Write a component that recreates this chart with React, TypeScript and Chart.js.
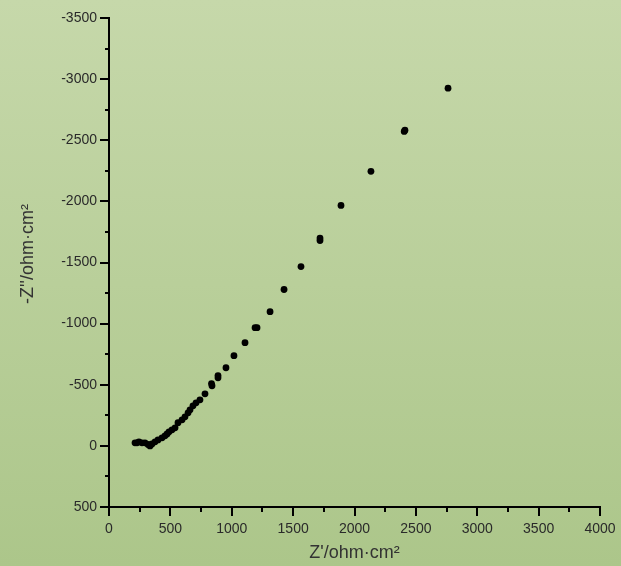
import React, { useEffect, useRef } from "react";
import { Chart, registerables } from "chart.js";

Chart.register(...registerables);

// Nyquist data: Z' (ohm·cm²) and Z'' (ohm·cm², negative = capacitive)
const zReal = [
  2762, 2411, 2405, 2134, 1890, 1719, 1719, 1564, 1426, 1312, 1206, 1190,
  1108, 1018, 953, 888, 888, 839, 835, 782, 741, 709, 684, 660, 644, 619,
  595, 562, 538, 513, 489, 473, 456, 432, 399, 375, 350, 334, 318, 293, 269,
  244, 228, 212,
];
const zImag = [
  -2926, -2582, -2572, -2246, -1967, -1680, -1700, -1467, -1279, -1098, -967,
  -967, -844, -738, -639, -557, -575, -492, -510, -426, -377, -352, -328,
  -295, -270, -238, -213, -189, -148, -131, -115, -98, -82, -66, -49, -33,
  -16, 0, -12, -25, -25, -33, -25, -25,
];

const xTicks = [0, 500, 1000, 1500, 2000, 2500, 3000, 3500, 4000];
const yTicks = [-3500, -3000, -2500, -2000, -1500, -1000, -500, 0, 500];
const xTitle = "Z'/ohm·cm²";
const yTitle = "-Z''/ohm·cm²";

const FONT = "'Liberation Sans', Arial, sans-serif";

const tickPlugin = {
  id: "customTicks",
  afterDraw(chart: any) {
    const ctx = chart.ctx;
    const xs = chart.scales.x;
    const ys = chart.scales.y;
    const area = chart.chartArea;
    ctx.save();
    ctx.strokeStyle = "#000";
    ctx.lineWidth = 2;
    ctx.beginPath();
    for (let v = xs.min; v <= xs.max + 1e-6; v += 250) {
      const major = Math.round(v) % 500 === 0;
      const px = Math.round(xs.getPixelForValue(v));
      ctx.moveTo(px, area.bottom);
      ctx.lineTo(px, area.bottom + (major ? 9 : 5));
    }
    for (let v = ys.min; v <= ys.max + 1e-6; v += 250) {
      const major = Math.round(v) % 500 === 0;
      const py = Math.round(ys.getPixelForValue(v));
      ctx.moveTo(area.left, py);
      ctx.lineTo(area.left - (major ? 9 : 4), py);
    }
    ctx.stroke();
    // y axis title (rotated), positioned like the reference
    ctx.fillStyle = "#333";
    ctx.font = `18px ${FONT}`;
    ctx.textAlign = "center";
    ctx.textBaseline = "middle";
    ctx.translate(28, 254);
    ctx.rotate(-Math.PI / 2);
    ctx.fillText(yTitle, 0, 0);
    ctx.restore();
  },
};

export default function App() {
  const ref = useRef<HTMLCanvasElement>(null);

  useEffect(() => {
    if (!ref.current) return;
    const data = zReal.map((x, i) => ({ x, y: zImag[i] }));
    const tickFont = { family: FONT, size: 14 };
    const titleFont = { family: FONT, size: 18 };
    const chart = new Chart(ref.current, {
      type: "scatter",
      data: {
        datasets: [
          {
            data,
            backgroundColor: "#000",
            borderColor: "#000",
            pointRadius: 3.4,
            pointBorderWidth: 0,
          },
        ],
      },
      options: {
        animation: false,
        responsive: false,
        devicePixelRatio: 1,
        layout: { padding: { left: 0, top: 18, right: 21, bottom: 0 } },
        plugins: {
          legend: { display: false },
          tooltip: { enabled: false },
        },
        scales: {
          x: {
            type: "linear",
            min: 0,
            max: 4000,
            afterFit: (s: any) => {
              s.height = 59;
            },
            afterBuildTicks: (s: any) => {
              s.ticks = xTicks.map((v) => ({ value: v }));
            },
            ticks: {
              autoSkip: false,
              maxRotation: 0,
              padding: 5,
              color: "#2a2a2a",
              font: tickFont,
              callback: (v: any) => String(v),
            },
            grid: { display: false, drawTicks: true, tickLength: 9 },
            border: { display: true, color: "#000", width: 2 },
            title: {
              display: true,
              text: xTitle,
              color: "#333",
              font: titleFont,
              padding: { top: 0, bottom: 2 },
            },
          },
          y: {
            type: "linear",
            min: -3500,
            max: 500,
            reverse: true,
            afterFit: (s: any) => {
              s.width = 109;
            },
            afterBuildTicks: (s: any) => {
              s.ticks = yTicks.map((v) => ({ value: v }));
            },
            ticks: {
              autoSkip: false,
              padding: 3,
              color: "#2a2a2a",
              font: tickFont,
              callback: (v: any) => String(v),
            },
            grid: { display: false, drawTicks: true, tickLength: 9 },
            border: { display: true, color: "#000", width: 2 },
            title: { display: false },
          },
        },
      },
      plugins: [tickPlugin],
    });
    return () => chart.destroy();
  }, []);

  return (
    <div
      style={{
        position: "fixed",
        left: 0,
        top: 0,
        width: 621,
        height: 566,
        background: "linear-gradient(to bottom, #c6d8aa 0%, #acc68a 100%)",
      }}
    >
      <canvas ref={ref} width={621} height={566} style={{ display: "block" }} />
    </div>
  );
}
